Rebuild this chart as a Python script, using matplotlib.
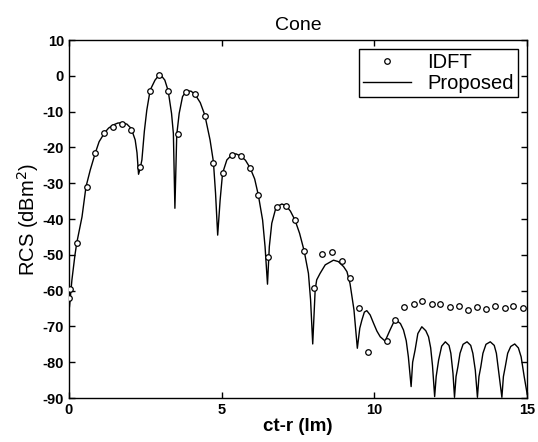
"""Cone RCS: IDFT samples vs proposed method."""

import matplotlib
matplotlib.use('Agg')
import matplotlib.pyplot as plt

plt.rcParams['font.family'] = ['Liberation Sans', 'DejaVu Sans']
plt.rcParams['axes.unicode_minus'] = False

# IDFT samples (open circles)
idft_x = [0.0, 0.05, 0.25, 0.58, 0.85, 1.16, 1.45, 1.75, 2.03, 2.33, 2.65, 2.95,
          3.23, 3.56, 3.83, 4.13, 4.45, 4.73, 5.03, 5.33, 5.62, 5.93, 6.2, 6.53,
          6.8, 7.11, 7.4, 7.7, 8.02, 8.3, 8.6, 8.93, 9.2, 9.51, 9.8, 10.4, 10.68,
          10.98, 11.3, 11.57, 11.88, 12.15, 12.46, 12.77, 13.06, 13.35, 13.65,
          13.95, 14.26, 14.55, 14.85]
idft_y = [-62.0, -59.5, -46.6, -31.0, -21.7, -16.1, -14.2, -13.5, -15.0, -25.4,
          -4.2, 0.2, -4.2, -16.3, -4.4, -5.2, -11.2, -24.3, -27.2, -22.1, -22.4,
          -25.7, -33.3, -50.7, -36.6, -36.3, -40.3, -48.9, -59.2, -49.9, -49.3,
          -51.6, -56.6, -64.8, -77.2, -74.0, -68.2, -64.7, -63.7, -62.9, -63.8,
          -63.7, -64.7, -64.3, -65.4, -64.7, -65.1, -64.3, -64.9, -64.2, -64.9]

# Proposed (solid line)
prop_x = [0.02, 0.1, 0.2, 0.26, 0.43, 0.56, 0.7, 0.86, 0.99, 1.17, 1.3, 1.46,
          1.6, 1.74, 1.9, 2.04, 2.17, 2.23, 2.28, 2.33, 2.39, 2.47, 2.55, 2.66,
          2.82, 2.98, 3.14, 3.25, 3.36, 3.42, 3.47, 3.53, 3.61, 3.72, 3.85, 4.0,
          4.13, 4.3, 4.45, 4.62, 4.73, 4.8, 4.87, 4.95, 5.03, 5.17, 5.33, 5.47,
          5.62, 5.78, 5.93, 6.08, 6.2, 6.34, 6.42, 6.5, 6.56, 6.64, 6.78, 6.97,
          7.11, 7.25, 7.4, 7.55, 7.7, 7.84, 7.91, 7.98, 8.06, 8.11, 8.22, 8.39,
          8.66, 8.82, 8.99, 9.1, 9.2, 9.33, 9.44, 9.52, 9.59, 9.67, 9.75, 9.86,
          9.97, 10.08, 10.19, 10.35, 10.51, 10.62, 10.73, 10.85, 10.95, 11.04,
          11.11, 11.2, 11.25, 11.33, 11.42, 11.55, 11.68, 11.77, 11.84, 11.9,
          11.97, 12.02, 12.1, 12.2, 12.32, 12.44, 12.5, 12.57, 12.62, 12.67,
          12.73, 12.8, 12.9, 13.03, 13.15, 13.22, 13.3, 13.37, 13.42, 13.48,
          13.55, 13.65, 13.79, 13.92, 13.99, 14.06, 14.17, 14.22, 14.28, 14.36,
          14.46, 14.59, 14.71, 14.8, 14.9, 15.0]
prop_y = [-64.5, -57.0, -50.0, -46.6, -39.4, -31.0, -26.3, -21.7, -18.4, -15.9,
          -14.6, -13.7, -13.2, -13.1, -13.5, -14.7, -17.9, -21.5, -27.5, -26.0,
          -23.5, -15.5, -9.6, -4.0, -1.2, 0.5, -1.2, -4.2, -10.5, -16.1, -37.0,
          -16.5, -10.5, -5.8, -4.2, -4.3, -5.2, -7.5, -11.0, -17.9, -24.0, -32.8,
          -44.5, -34.7, -27.2, -23.5, -22.1, -21.8, -22.4, -23.6, -25.7, -28.8,
          -33.3, -40.3, -47.7, -58.2, -47.7, -41.2, -36.7, -35.8, -36.3, -37.8,
          -40.3, -44.0, -48.9, -55.2, -62.6, -74.9, -59.8, -57.0, -55.2, -52.8,
          -51.5, -51.9, -53.3, -54.7, -58.0, -65.4, -76.1, -70.5, -68.2, -66.0,
          -65.6, -66.8, -69.1, -71.3, -72.9, -74.1, -71.0, -69.0, -68.4, -69.2,
          -71.0, -74.0, -78.5, -86.8, -80.0, -76.6, -72.0, -70.1, -71.2, -72.9,
          -76.0, -81.0, -89.6, -84.0, -79.4, -75.5, -74.3, -75.3, -77.5, -83.1,
          -89.8, -84.0, -81.3, -77.5, -75.0, -74.3, -75.3, -77.5, -82.2, -89.8,
          -84.0, -81.3, -77.5, -75.0, -74.3, -75.3, -77.5, -82.2, -89.8, -84.0,
          -81.3, -77.5, -75.6, -74.9, -76.0, -78.5, -84.0, -89.0]

fig = plt.figure(figsize=(5.38, 4.42), dpi=100)
ax = fig.add_axes([0.128, 0.0995, 0.852, 0.81])

ax.plot(idft_x, idft_y, 'o', mfc='white', mec='black', ms=4, mew=0.9,
        label='IDFT', zorder=3)
ax.plot(prop_x, prop_y, '-', color='black', lw=1.0, label='Proposed')

ax.set_xlim(0, 15)
ax.set_ylim(-90, 10)
ax.set_xticks([0, 5, 10, 15])
ax.set_yticks(range(-90, 11, 10))
ax.tick_params(direction='in', top=True, right=True, length=4, width=1,
               labelsize=10.5)
for lab in ax.get_xticklabels() + ax.get_yticklabels():
    lab.set_fontweight('bold')
for sp in ax.spines.values():
    sp.set_linewidth(1.0)

ax.set_title('Cone', fontsize=14, pad=7)
ax.set_xlabel('ct-r (lm)', fontsize=13.5, fontweight='bold', labelpad=1)
ax.set_ylabel('RCS (dBm$^2$)', fontsize=14.5, labelpad=1)

leg = ax.legend(loc='upper right', bbox_to_anchor=(0.988, 0.985), fontsize=14.5,
                fancybox=False, edgecolor='black', framealpha=1,
                handlelength=2.4, borderpad=0.2, labelspacing=0.1,
                handletextpad=0.8, borderaxespad=0.2)
leg.get_frame().set_linewidth(1.0)

fig.savefig('out.png', dpi=100)
